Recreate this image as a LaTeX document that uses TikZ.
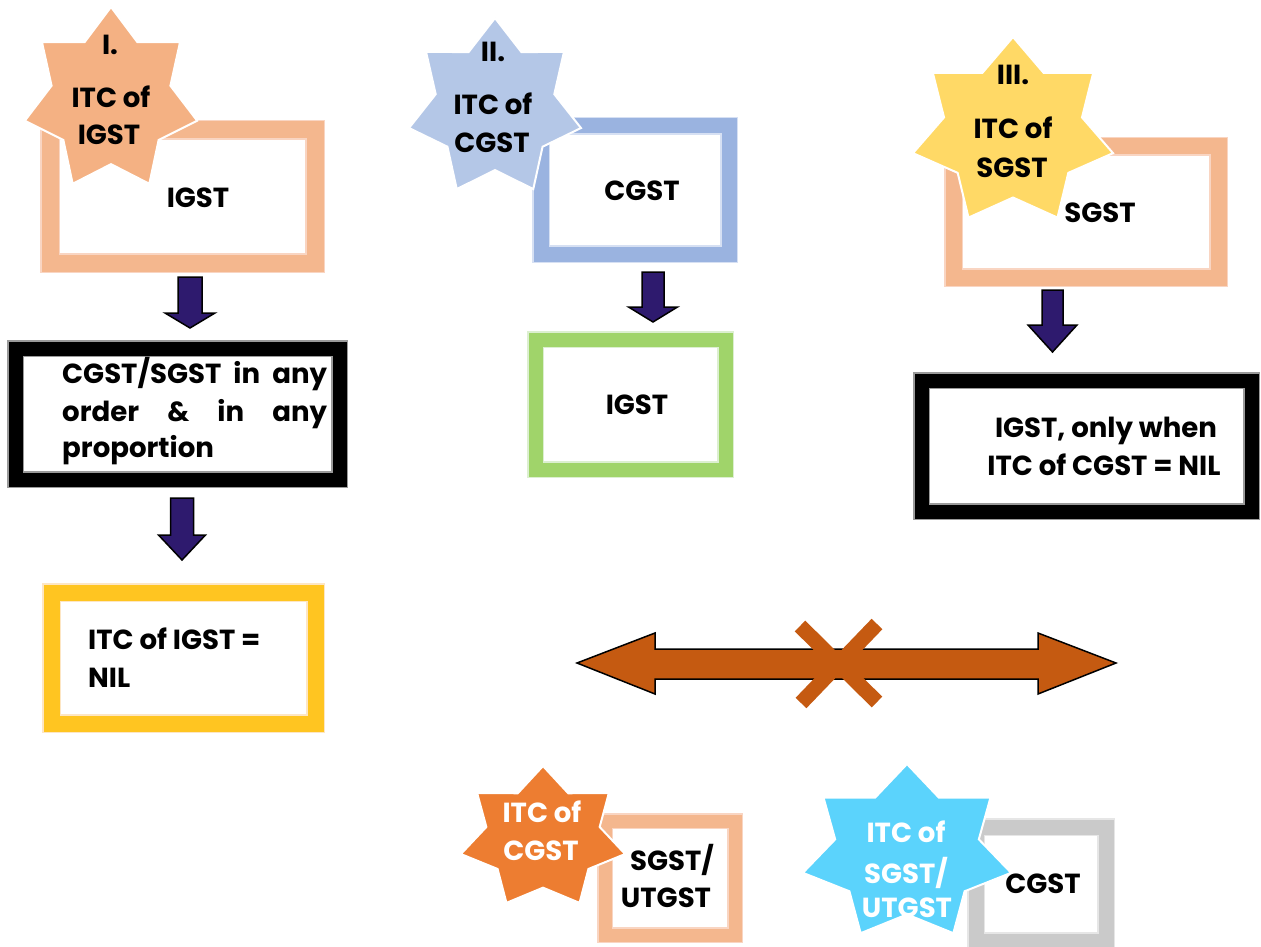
\documentclass[tikz,border=0pt]{standalone}
\usepackage{fontspec}
\setmainfont{Poppins}
\usetikzlibrary{shapes.geometric}
\definecolor{peach}{HTML}{F4B78E}
\definecolor{peachpale}{HTML}{F9D5C2}
\definecolor{blueframe}{HTML}{9AB3E0}
\definecolor{bluepale}{HTML}{D6E0F3}
\definecolor{greenframe}{HTML}{A0D46A}
\definecolor{greenpale}{HTML}{DCEFD0}
\definecolor{yellowframe}{HTML}{FFC521}
\definecolor{yellowpale}{HTML}{FDE6C4}
\definecolor{grayframe}{HTML}{CACACA}
\definecolor{graypale}{HTML}{E6E6E6}
\definecolor{blackpale}{HTML}{9A9A9A}
\definecolor{starpeach}{HTML}{F4B183}
\definecolor{starblue}{HTML}{B4C7E7}
\definecolor{staryellow}{HTML}{FFD966}
\definecolor{starorange}{HTML}{ED7D31}
\definecolor{starcyan}{HTML}{5BD3FC}
\definecolor{arrowpurple}{HTML}{2E1A6E}
\definecolor{rust}{HTML}{C55A11}
\newcommand\blockdown[6]{%
  \draw[downarr] ({#1-#5},#2) -- ({#1+#5},#2) -- ({#1+#5},#3) -- ({#1+#6},#3)
    -- (#1,#4) -- ({#1-#6},#3) -- ({#1-#5},#3) -- cycle;}
\begin{document}
\begin{tikzpicture}[x=1pt,y=-1pt,
  gbox/.style 2 args={draw=#2, double=#1, line width=1.5pt, fill=white, inner sep=0pt, outer sep=0pt},
  ddist/.style={double distance=#1},
  starnode/.style={star, star points=7, star point ratio=1.45, inner sep=0pt, outer sep=0pt,
    draw=white, line width=2pt, minimum size=#1},
  txt/.style={font=\bfseries\fontsize{27.6}{37}\selectfont, inner sep=0pt, anchor=base},
  ltxt/.style={txt, anchor=base west},
  wtxt/.style={txt, text=white},
  downarr/.style={fill=arrowpurple, draw=black, line width=1.5pt, line join=miter},
]
\fill[white] (0,0) rectangle (1261,947);
\clip (0,0) rectangle (1261,947);

% ---------- column I ----------
\node[gbox={peach}{peachpale}, ddist=17pt, minimum width=265pt, minimum height=133pt] (b1) at (182.5,196.5) {};
\node[gbox={black}{blackpale}, ddist=14pt, minimum width=324pt, minimum height=131pt] (b2) at (177.5,414) {};
\node[gbox={yellowframe}{yellowpale}, ddist=16pt, minimum width=264pt, minimum height=131pt] (b3) at (183.5,658) {};
\begin{scope}[shift={(111,100)}, xscale=0.95]
  \node[starnode=186pt, fill=starpeach, transform shape] (s1) at (0,0) {};
\end{scope}
\node[txt] (s1a) at (110,55) {I.};
\node[txt] (s1b) at (111,108) {ITC of};
\node[txt] (s1c) at (109,145) {IGST};
\node[txt] (t1) at (198,207) {IGST};
\node[ltxt] (t2a) at (62,383) {\makebox[265pt][s]{CGST/SGST in any}};
\node[ltxt] (t2b) at (62,421) {\makebox[265pt][s]{order \& in any}};
\node[ltxt] (t2c) at (62,457) {proportion};
\node[ltxt] (t3a) at (88,649) {ITC of IGST =};
\node[ltxt] (t3b) at (88,687) {NIL};
\blockdown{190}{277}{313}{328}{12}{25}
\blockdown{182}{498}{535}{560}{11.5}{23.5}

% ---------- column II ----------
\node[gbox={blueframe}{bluepale}, ddist=15pt, minimum width=188pt, minimum height=128pt] (b4) at (635,190) {};
\node[gbox={greenframe}{greenpale}, ddist=14pt, minimum width=190pt, minimum height=130pt] (b7) at (630.5,404.5) {};
\begin{scope}[shift={(495,108)}, xscale=0.98]
  \node[starnode=180pt, fill=starblue, transform shape] (s2) at (0,0) {};
\end{scope}
\node[txt] (s2a) at (493,62) {II.};
\node[txt] (s2b) at (493,115) {ITC of};
\node[txt] (s2c) at (492,153) {CGST};
\node[txt] (t4) at (642,200) {CGST};
\node[txt] (t7) at (637,414) {IGST};
\blockdown{653}{272}{307}{322}{11}{24.5}

% ---------- column III ----------
\node[gbox={peach}{peachpale}, ddist=16pt, minimum width=265pt, minimum height=131pt] (b5) at (1086,212) {};
\node[gbox={black}{blackpale}, ddist=14pt, minimum width=330pt, minimum height=131pt] (b6) at (1086.5,446) {};
\begin{scope}[shift={(1013,132)}, xscale=1.08]
  \node[starnode=190pt, fill=staryellow, transform shape] (s3) at (0,0) {};
\end{scope}
\node[txt] (s3a) at (1013,85) {III.};
\node[txt] (s3b) at (1013,139) {ITC of};
\node[txt] (s3c) at (1012,177) {SGST};
\node[txt] (t5) at (1100,222) {SGST};
\node[txt] (t6a) at (1106,437) {IGST, only when};
\node[txt] (t6b) at (1104,475) {ITC of CGST = NIL};
\blockdown{1052.5}{290}{325}{352}{10.5}{24.5}

% ---------- crossed double arrow ----------
\coordinate (dl) at (577,663);
\coordinate (dr) at (1116,663);
\draw[fill=rust, draw=black, line width=1.5pt, line join=miter]
  (dl) -- (655,633) -- (655,649) -- (1038,649) -- (1038,633) -- (dr)
  -- (1038,694) -- (1038,679) -- (655,679) -- (655,694) -- cycle;
\coordinate (xa) at (800,626);
\coordinate (xb) at (877,702);
\coordinate (xc) at (877,624);
\coordinate (xd) at (801,703);
\draw[rust, line width=15pt] (xa) -- (xb);
\draw[rust, line width=15pt] (xc) -- (xd);

% ---------- bottom pair ----------
\node[gbox={peach}{peachpale}, ddist=13pt, minimum width=130pt, minimum height=114pt] (b8) at (670,878) {};
\begin{scope}[shift={(543,838)}, xscale=1.17]
  \node[starnode=144pt, fill=starorange, transform shape] (s4) at (0,0) {};
\end{scope}
\node[wtxt] (s4a) at (542,822) {ITC of};
\node[wtxt] (s4b) at (541,860) {CGST};
\node[txt] (t8a) at (672,870) {SGST/};
\node[txt] (t8b) at (666,907) {UTGST};

\node[gbox={grayframe}{graypale}, ddist=15pt, minimum width=130pt, minimum height=114pt] (b9) at (1041,884) {};
\begin{scope}[shift={(907,853)}, xscale=1.2]
  \node[starnode=178pt, fill=starcyan, transform shape] (s5) at (0,0) {};
\end{scope}
\node[wtxt] (s5a) at (906,842) {ITC of};
\node[wtxt] (s5b) at (906,883) {SGST/};
\node[wtxt] (s5c) at (907,917) {UTGST};
\node[txt] (t9) at (1043,893) {CGST};
\end{tikzpicture}
\end{document}
